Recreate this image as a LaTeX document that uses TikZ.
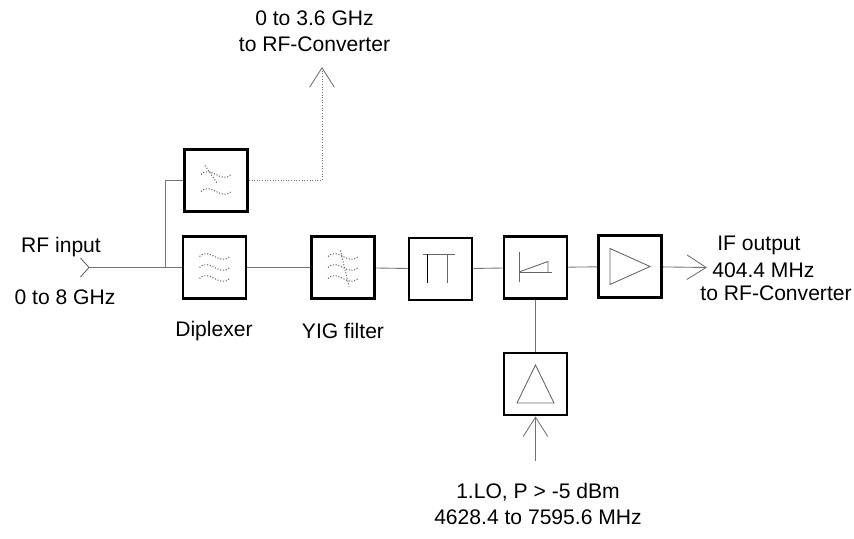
\documentclass[tikz,border=0pt]{standalone}
\usepackage{fontspec}
\setmainfont{Liberation Sans}
\usetikzlibrary{arrows.meta}
\tikzset{
  blk/.style={draw,line width=1.6pt,minimum width=1.26cm,minimum height=1.24cm,inner sep=0pt},
  wire/.style={draw=black!55,line width=0.5pt},
  sym/.style={draw=black!60,line width=0.5pt},
  fsym/.style={draw=black!60,line width=0.6pt,densely dotted},
  barb/.style={-{Straight Barb[length=11pt,width=14pt]}},
  lbl/.style={font=\fontsize{12}{15}\selectfont,inner sep=0pt,align=center}
}
\begin{document}
\begin{tikzpicture}
      \useasboundingbox (0,0) rectangle (17.08,-10.78);
      % blocks
      \node[blk] (lowp) at (4.32,-3.61) {};
      \node[blk] (dplx) at (4.29,-5.35) {};
      \node[blk] (yig) at (6.86,-5.35) {};
      \node[blk] (pi) at (8.81,-5.38) {};
      \node[blk] (mix) at (10.71,-5.35) {};
      \node[blk] (amp) at (12.60,-5.33) {};
      \node[blk] (lo) at (10.71,-7.68) {};
      % ports
      \coordinate (rfin) at (1.78,-5.35);
      \coordinate (tap) at (3.30,-5.35);
      \coordinate (up) at (6.44,-1.34);
      \coordinate (ifout) at (14.14,-5.35);
      \coordinate (losrc) at (10.71,-9.22);
      % symbols
      \begin{scope}[shift={(lowp.center)}]
        \draw[fsym] (-0.3,0.12) .. controls (-0.1,0.32) and (0.1,-0.08) .. (0.3,0.12);
        \draw[fsym] (-0.3,-0.22) .. controls (-0.1,-0.02) and (0.1,-0.42) .. (0.3,-0.22);
        \draw[fsym] (-0.22,0.3) -- (0.02,-0.05);
      \end{scope}
      \begin{scope}[shift={(dplx.center)}]
        \draw[fsym] (-0.3,0.22) .. controls (-0.1,0.42) and (0.1,0.02) .. (0.3,0.22);
        \draw[fsym] (-0.3,0) .. controls (-0.1,0.2) and (0.1,-0.2) .. (0.3,0);
        \draw[fsym] (-0.3,-0.22) .. controls (-0.1,-0.02) and (0.1,-0.42) .. (0.3,-0.22);
      \end{scope}
      \begin{scope}[shift={(yig.center)}]
        \draw[fsym] (-0.3,0.22) .. controls (-0.1,0.42) and (0.1,0.02) .. (0.3,0.22);
        \draw[fsym] (-0.3,0) .. controls (-0.1,0.2) and (0.1,-0.2) .. (0.3,0);
        \draw[fsym] (-0.3,-0.22) .. controls (-0.1,-0.02) and (0.1,-0.42) .. (0.3,-0.22);
        \draw[fsym] (-0.05,0.34) -- (0.12,-0.38);
      \end{scope}
      \begin{scope}[shift={(pi.center)}]
        \draw[sym] (-0.36,0.3) -- (0.28,0.3);
        \draw[sym,draw=black] (-0.26,0.3) -- (-0.26,-0.28);
        \draw[sym] (0.14,0.3) -- (0.14,-0.28);
      \end{scope}
      \begin{scope}[shift={(mix.center)}]
        \draw[sym] (-0.33,0.31) -- (-0.33,-0.29);
        \draw[sym] (-0.33,-0.09) -- (0.33,-0.09);
        \draw[sym] (-0.33,-0.09) -- (0.25,0.12) -- (0.25,-0.09);
      \end{scope}
      \begin{scope}[shift={(amp.center)}]
        \draw[sym] (-0.4,0.36) -- (0.4,0) -- (-0.4,-0.36) -- cycle;
      \end{scope}
      \begin{scope}[shift={(lo.center)}]
        \draw[sym] (0,0.38) -- (0.37,-0.38) -- (-0.37,-0.38) -- cycle;
      \end{scope}
      % connections
      \draw[sym] (rfin) ++(-0.17,0.19) -- (rfin) -- ++(-0.17,-0.19);
      \draw[wire] (rfin) to (dplx);
      \draw[wire] (tap) |- (lowp);
      \draw[wire,densely dotted,barb] (lowp) -| (up);
      \draw[wire] (dplx) to (yig);
      \draw[wire] (yig) to (pi);
      \draw[wire] (pi) to (mix);
      \draw[wire] (mix) to (amp);
      \draw[wire] (mix) to (lo);
      \draw[wire,barb] (amp) to (ifout);
      \draw[wire,barb] (losrc) to (lo);
      % labels
      \node[lbl] (uplbl) at (6.29,-0.63) {0 to 3.6 GHz\\to RF-Converter};
      \node[lbl] (rflbl) at (1.22,-4.94) {RF input};
      \node[lbl] (rfrng) at (1.30,-5.94) {0 to 8 GHz};
      \node[lbl] (dplxlbl) at (4.28,-6.62) {Diplexer};
      \node[lbl] (yiglbl) at (6.86,-6.62) {YIG filter};
      \node[lbl,anchor=west] (iflbl) at (14.34,-4.90) {IF output};
      \node[lbl,anchor=west] (iffreq) at (14.24,-5.40) {404.4 MHz};
      \node[lbl,anchor=east] (ifdest) at (17.04,-5.86) {to RF-Converter};
      \node[lbl] (lolbl) at (10.76,-10.08) {1.LO, P > -5 dBm\\4628.4 to 7595.6 MHz};
\end{tikzpicture}
\end{document}
